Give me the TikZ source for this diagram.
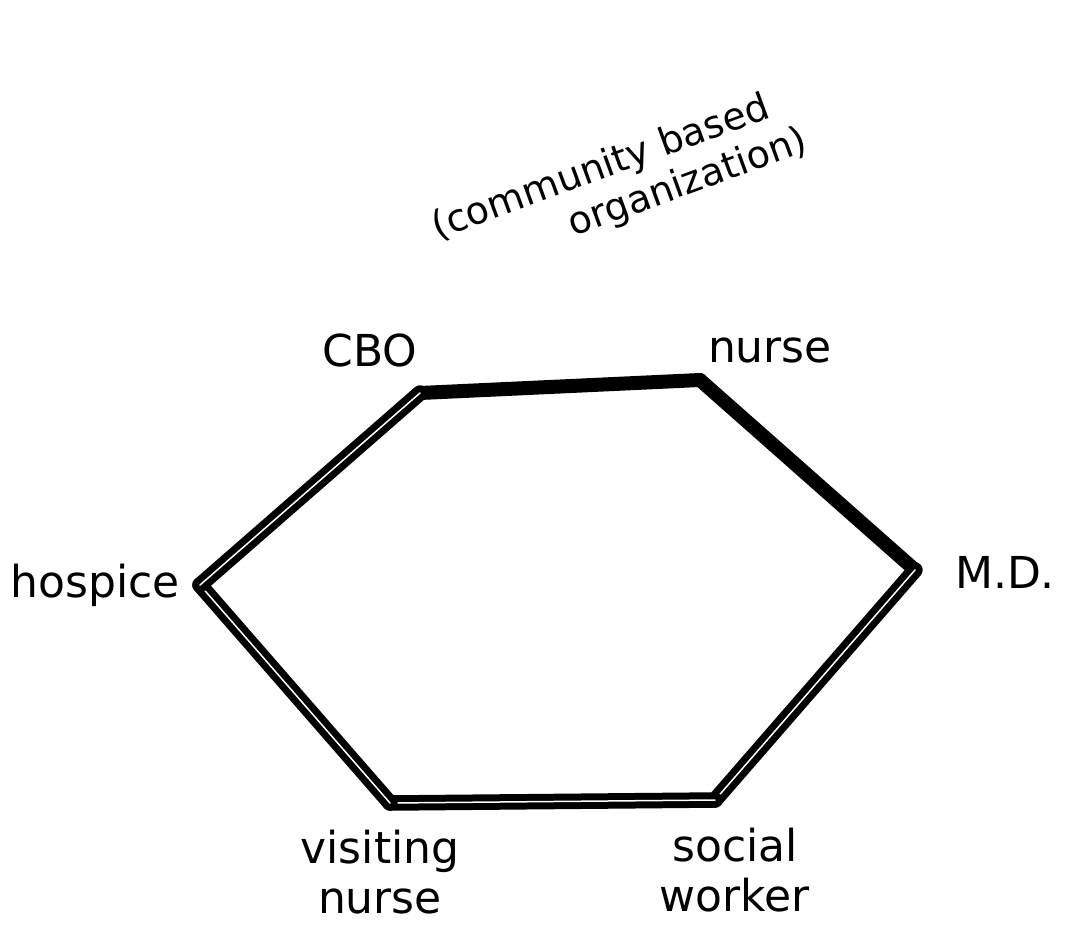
\documentclass[tikz,border=0pt]{standalone}
\usepackage{fontspec}
\setmainfont{DejaVu Sans}
\begin{document}
\begin{tikzpicture}[x=1pt,y=-1pt,
  lbl/.style={font=\fontsize{44}{50}\selectfont, inner sep=0pt},
  note/.style={font=\fontsize{38}{44}\selectfont, inner sep=0pt, rotate=20, align=left},
  edge/.style={line width=14pt, line cap=round, line join=round},
  dedge/.style={draw=black, double=white, double distance=1.5pt, line width=7pt, line cap=round}]
\useasboundingbox (0,0) rectangle (1092,935);
\coordinate (cbo) at (420,393);
\coordinate (nur) at (700,380);
\coordinate (md) at (915,570);
\coordinate (sw) at (715,800);
\coordinate (vn) at (390,803);
\coordinate (hos) at (200,585);
\draw[edge] (cbo) -- (nur);
\draw[edge] (nur) -- (md);
\draw[dedge] (md) -- (sw);
\draw[dedge] (sw) -- (vn);
\draw[dedge] (vn) -- (hos);
\draw[dedge] (hos) -- (cbo);
\node[lbl] (tcbo) at (370,350) {CBO};
\node[lbl] (tnur) at (770,350) {nurse};
\node[lbl] (tmd) at (1005,572) {M.D.};
\node[lbl] (thos) at (95,585) {hospice};
\node[lbl, align=center] (tvn) at (380,872) {visiting\\nurse};
\node[lbl, align=center] (tsw) at (735,870) {social\\worker};
\node[note] (n) at (620,185) {(community based\\\hspace{3.4em}organization)};
\end{tikzpicture}
\end{document}
